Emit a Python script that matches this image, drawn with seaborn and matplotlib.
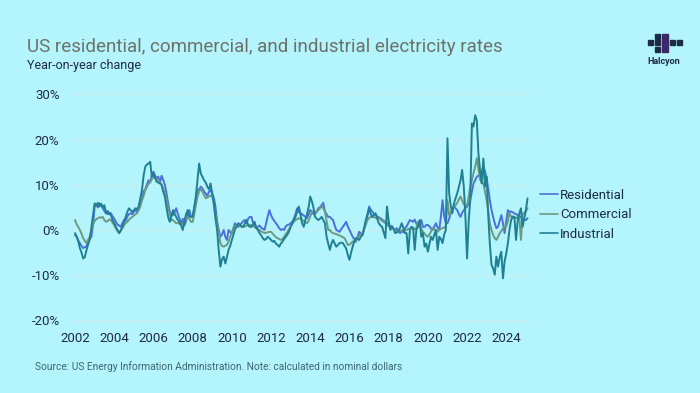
import numpy as np
import pandas as pd
import matplotlib
matplotlib.use("Agg")
import matplotlib.pyplot as plt
import seaborn as sns
from matplotlib.patches import Rectangle

# ---- data (year-on-year % change, monthly, Jan 2002 - Feb 2025) ----
residential = [
    -1.1, -1.5, -2.3, -2.9, -3.5, -4.0, -3.8, -3.7, -2.2, -2.0, -1.5, 1.0,   # 2002
    5.2, 5.5, 5.0, 5.9, 5.5, 4.8, 4.2, 3.7, 3.5, 3.8, 3.7, 3.0,              # 2003
    2.5, 1.8, 1.2, 1.0, 0.7, 1.5, 2.2, 2.0, 3.0, 3.5, 3.7, 3.5,              # 2004
    4.0, 4.4, 4.0, 5.0, 6.6, 7.0, 8.5, 9.0, 10.0, 11.0, 10.5, 12.0,          # 2005
    12.9, 12.0, 11.5, 11.8, 10.5, 12.0, 11.1, 10.0, 8.1, 6.0, 4.1, 3.5,      # 2006
    3.3, 4.0, 4.8, 3.5, 2.5, 1.5, 2.5, 1.0, 2.0, 3.5, 4.4, 3.0,              # 2007
    2.9, 5.0, 7.0, 8.85, 9.0, 9.6, 9.2, 8.5, 8.1, 7.5, 8.5, 8.85,            # 2008
    8.0, 7.0, 5.2, 2.0, 0.0, -1.5, -1.0, 0.0, -1.5, -2.2, 0.0, -0.5,         # 2009
    -0.7, 0.5, 1.5, 1.0, 0.7, 1.2, 1.5, 2.0, 2.2, 1.5, 2.5, 2.9,             # 2010
    2.9, 1.5, 1.1, 0.5, 0.7, 1.0, 0.5, 0.3, 0.0, 1.5, 3.0, 4.4,              # 2011
    3.3, 2.5, 2.0, 1.5, 1.0, 0.4, 0.0, 0.2, 0.0, 0.8, 1.1, 1.2,              # 2012
    1.5, 1.8, 2.5, 3.5, 4.8, 4.0, 3.7, 3.5, 3.2, 2.9, 2.6, 3.5,              # 2013
    4.4, 4.0, 3.5, 3.7, 4.0, 4.8, 5.0, 5.5, 6.0, 4.1, 3.5, 2.9,              # 2014
    2.9, 2.5, 2.2, 1.0, 0.0, -0.2, -0.4, 0.2, 0.7, 1.2, 1.8, 0.8,            # 2015
    0.0, -0.8, -1.5, -2.0, -2.6, -1.5, -0.4, -0.8, -1.1, 0.2, 1.5, 3.0,      # 2016
    5.2, 4.5, 4.1, 3.5, 3.3, 3.0, 2.8, 2.6, 2.3, 2.0, 1.8, 1.5,              # 2017
    1.2, 0.7, 0.9, 0.3, 0.0, 0.4, -0.2, -0.7, -0.3, -0.5, 0.4, 0.8,          # 2018
    1.5, 2.2, 2.0, 1.8, 2.3, 1.4, 1.1, 1.5, 2.2, 0.7, 0.7, 1.1,              # 2019
    1.1, 0.8, 0.3, 0.0, 0.8, 1.5, 0.5, 0.0, 3.0, 6.6, 3.0, 1.5,              # 2020
    1.5, 2.5, 3.7, 4.5, 5.2, 4.8, 4.4, 3.5, 2.9, 3.8, 4.4, 4.8,              # 2021
    5.2, 5.8, 6.6, 8.5, 10.3, 11.0, 11.8, 12.0, 12.2, 13.0, 14.0, 13.0,      # 2022
    11.4, 9.0, 6.6, 4.5, 2.9, 1.5, 0.4, 0.7, 2.0, 3.3, 1.5, -0.7,            # 2023
    2.0, 4.4, 4.0, 4.1, 3.9, 3.7, 3.5, 3.3, 3.0, 2.9, 2.5, 2.2,              # 2024
    2.2, 2.6,                                                                # 2025
]

commercial = [
    2.2, 1.2, 0.7, 0.0, -0.8, -1.8, -2.4, -2.9, -2.2, -1.5, -0.2, 1.1,       # 2002
    2.0, 2.4, 2.6, 2.8, 2.7, 2.9, 2.2, 1.8, 2.0, 2.3, 2.2, 1.6,              # 2003
    1.1, 0.3, -0.2, -0.7, 0.0, 0.4, 1.0, 1.5, 1.8, 2.3, 2.6, 2.9,            # 2004
    3.2, 3.5, 3.7, 4.4, 5.2, 6.5, 7.5, 8.85, 9.5, 10.2, 10.7, 11.2,          # 2005
    11.8, 11.5, 11.3, 11.1, 10.5, 10.0, 9.2, 8.0, 6.8, 5.2, 3.5, 2.2,        # 2006
    2.2, 1.8, 1.5, 1.6, 1.3, 1.1, 1.5, 2.0, 2.4, 2.9, 2.5, 1.8,              # 2007
    1.8, 3.5, 5.5, 7.4, 8.5, 9.2, 8.5, 7.8, 7.0, 7.2, 7.4, 7.6,              # 2008
    7.4, 5.5, 3.5, 1.5, -0.5, -2.9, -3.5, -3.7, -3.5, -3.3, -2.5, -1.5,      # 2009
    -0.5, 0.4, 0.8, 1.0, 1.1, 0.9, 0.7, 0.7, 0.8, 1.0, 1.1, 1.1,             # 2010
    1.1, 0.9, 0.6, 0.4, 0.2, 0.0, -0.3, -0.5, -0.7, -0.6, -0.5, -0.4,        # 2011
    -0.4, -0.8, -1.2, -1.6, -1.8, -2.0, -2.2, -2.0, -1.5, -0.9, -0.4, 0.2,   # 2012
    0.8, 1.4, 1.8, 2.2, 2.4, 2.6, 2.5, 2.2, 2.0, 1.8, 1.5, 2.0,              # 2013
    3.0, 4.1, 3.8, 4.0, 4.2, 4.4, 4.8, 5.2, 4.8, 4.1, 2.0, 0.0,              # 2014
    0.0, -0.5, -0.7, -0.8, -0.9, -1.1, -1.2, -1.4, -1.6, -1.8, -2.5, -3.3,   # 2015
    -3.3, -2.9, -2.6, -2.4, -2.2, -1.8, -1.3, -0.9, -0.7, 0.3, 1.2, 2.2,     # 2016
    2.6, 2.9, 2.9, 2.8, 2.7, 2.6, 2.6, 2.3, 2.0, 1.8, 1.5, 1.2,              # 2017
    0.8, 0.6, 0.4, 0.2, 0.0, -0.2, -0.4, -0.3, -0.1, 0.0, 0.1, 0.0,          # 2018
    0.2, 0.3, 0.4, 0.3, 0.1, 0.5, 1.8, 1.0, 0.3, -0.4, -0.8, -1.2,           # 2019
    -1.5, -1.0, -0.3, 0.4, 0.2, -0.1, -0.4, 0.0, 0.3, 0.4, 0.5, 0.8,         # 2020
    6.6, 3.3, 3.8, 4.5, 5.2, 5.5, 6.0, 6.8, 7.4, 6.5, 5.8, 5.2,              # 2021
    5.5, 7.5, 9.6, 11.0, 12.6, 14.0, 15.9, 13.5, 11.1, 10.5, 10.3, 8.5,      # 2022
    6.6, 4.0, 1.5, 0.0, -1.1, -1.8, -2.2, -1.5, -0.7, -0.2, 0.3, 0.7,        # 2023
    0.7, 2.0, 3.7, 3.0, 2.6, 2.8, 2.6, 2.9, 2.9, -2.2, 3.5, 3.8,             # 2024
    4.2, 4.8,                                                                # 2025
]

industrial = [
    -0.7, -1.5, -2.5, -4.0, -5.0, -6.3, -6.0, -4.5, -3.2, -2.2, 0.5, 3.0,    # 2002
    5.9, 5.5, 6.0, 5.2, 5.8, 5.0, 5.5, 3.7, 4.2, 3.5, 3.3, 2.2,              # 2003
    1.5, 0.7, 0.0, -0.7, -0.2, 0.7, 1.8, 2.9, 4.0, 4.8, 4.4, 4.0,            # 2004
    4.4, 4.8, 4.6, 5.2, 7.0, 8.85, 12.0, 14.0, 14.5, 14.7, 15.1, 11.8,       # 2005
    12.5, 11.5, 10.7, 10.5, 10.3, 10.0, 8.5, 7.4, 5.0, 2.9, 1.8, 3.0,        # 2006
    4.4, 3.5, 2.9, 2.2, 1.8, 1.0, 0.0, 2.0, 3.5, 4.4, 3.0, 2.9,              # 2007
    2.9, 5.0, 7.4, 11.0, 14.7, 12.5, 11.8, 11.0, 10.5, 9.6, 9.0, 10.3,       # 2008
    8.0, 5.9, 2.5, 0.0, -4.4, -8.1, -6.5, -5.9, -7.4, -6.0, -4.4, -3.5,      # 2009
    -2.2, -1.0, 0.2, 0.7, 1.5, 1.2, 0.8, 0.7, 1.5, 2.2, 1.0, 0.7,            # 2010
    0.7, 1.2, 1.8, 0.5, 0.0, -0.7, -1.2, -1.8, -2.2, -2.0, -1.5, -1.8,       # 2011
    -2.2, -2.6, -2.4, -3.0, -3.3, -3.7, -3.0, -2.6, -2.0, -1.5, -1.0, -0.3,  # 2012
    0.7, 1.5, 2.2, 2.9, 4.0, 5.2, 3.7, 1.5, 0.7, 2.2, 3.5, 5.0,              # 2013
    7.4, 6.3, 5.0, 2.9, 2.5, 2.2, 2.5, 2.9, 2.2, 1.5, -1.5, -3.0,            # 2014
    -4.4, -3.0, -2.2, -3.0, -3.7, -3.3, -2.9, -2.8, -2.9, -3.5, -4.1, -5.5,  # 2015
    -6.6, -5.0, -3.7, -2.5, -1.8, -2.0, -2.2, -1.5, -1.1, 0.5, 2.2, 3.5,     # 2016
    4.8, 3.5, 2.9, 3.3, 3.7, 2.5, 1.5, 1.0, 0.7, -0.5, -1.8, 5.2,            # 2017
    2.0, 0.0, 0.7, 0.3, -0.7, -0.5, -0.4, 0.5, 1.5, 0.5, -0.7, -0.7,         # 2018
    -5.2, 0.0, 0.7, 0.5, -4.4, 0.0, 0.7, 2.2, -1.5, -0.7, -3.7, -3.0,        # 2019
    -4.8, -3.0, -1.5, -2.2, -1.0, 0.0, -4.4, -1.5, -2.0, -2.9, -1.0, 0.0,    # 2020
    20.3, 8.1, 5.5, 3.7, 5.9, 7.0, 8.1, 9.5, 11.0, 13.3, 9.6, 3.0,           # 2021
    -6.3, 2.2, 6.6, 23.6, 22.9, 25.4, 24.3, 16.9, 13.0, 10.3, 15.8, 9.6,     # 2022
    11.8, 2.9, -3.0, -7.7, -8.5, -9.9, -5.9, -8.1, -6.0, -4.8, -10.7, -7.0,  # 2023
    -5.2, -2.9, 0.0, 2.2, 3.0, 2.9, -2.2, 2.0, 3.7, 4.8, 0.7, 2.5,           # 2024
    4.4, 7.0,                                                                # 2025
]

series_names = ["Residential", "Commercial", "Industrial"]
series_colors = ["#4b70dc", "#6c9a80", "#1f8094"]
y_ticks = [-20, -10, 0, 10, 20, 30]
x_tick_years = list(range(2002, 2025, 2))

dates = pd.date_range("2002-01-01", periods=len(residential), freq="MS")
df = pd.concat([
    pd.DataFrame({"date": dates, "value": vals, "series": name})
    for name, vals in zip(series_names, [residential, commercial, industrial])
], ignore_index=True)

# ---- style ----
BG = "#b4f4fc"
NAVY = "#1d2b45"
sns.set_theme(style="white")
plt.rcParams["font.family"] = ["Roboto", "DejaVu Sans"]

fig = plt.figure(figsize=(7.0, 3.93), dpi=100)
fig.patch.set_facecolor(BG)
ax = fig.add_axes([72 / 700, 1 - 329.4 / 393, 460 / 700, (329.4 - 89.9) / 393])
ax.set_facecolor(BG)

sns.lineplot(data=df, x="date", y="value", hue="series", hue_order=series_names,
             palette=series_colors, linewidth=1.4, ax=ax, legend=True)

ax.set_ylim(-22, 31)
ax.set_xlim(pd.Timestamp("2001-11-05"), pd.Timestamp("2025-04-25"))
ax.set_yticks(y_ticks)
ax.set_yticklabels([f"{t}%" for t in y_ticks])
ax.set_xticks([pd.Timestamp(f"{y}-01-01") for y in x_tick_years])
ax.set_xticklabels([str(y) for y in x_tick_years])
ax.tick_params(axis="both", length=0, labelsize=9.5, colors=NAVY)
ax.tick_params(axis="x", pad=2)
ax.tick_params(axis="y", pad=9)
ax.grid(axis="y", color="#cdeff3", linewidth=0.8)
ax.grid(axis="x", visible=False)
ax.set_axisbelow(True)
for s in ax.spines.values():
    s.set_visible(False)
ax.set_xlabel("")
ax.set_ylabel("")

leg = ax.legend(loc="center left", bbox_to_anchor=(1.005, 0.478), frameon=False,
                handlelength=1.4, handletextpad=0.15, labelspacing=0.48,
                fontsize=9.5, borderaxespad=0)
for txt in leg.get_texts():
    txt.set_color(NAVY)
for line in leg.get_lines():
    line.set_linewidth(1.2)

# ---- texts ----
fig.text(27 / 700, 1 - 47 / 393, "US residential, commercial, and industrial electricity rates",
         fontsize=13.5, color="#6c7268", va="center", ha="left")
fig.text(27 / 700, 1 - 66 / 393, "Year-on-year change", fontsize=9, color=NAVY,
         va="center", ha="left")
fig.text(35 / 700, 1 - 367 / 393,
         "Source: US Energy Information Administration. Note: calculated in nominal dollars",
         fontsize=7.3, color="#3e6670", va="center", ha="left")

# ---- logo ----
def sq(x, y, w, h, c):
    fig.patches.append(Rectangle((x / 700, 1 - (y + h) / 393), w / 700, h / 393,
                                 transform=fig.transFigure, color=c, zorder=5))

sq(648, 40, 5, 5, NAVY)
sq(655, 40, 5, 5, NAVY)
sq(655, 34, 5, 5, NAVY)
sq(655, 47, 5, 5, NAVY)
sq(662, 34, 6, 18, "#3b2a6b")
sq(670, 40, 5, 5, NAVY)
sq(677, 40, 5, 5, NAVY)
fig.text(664 / 700, 1 - 62 / 393, "Halcyon", fontsize=6.5, color=NAVY,
         fontweight="bold", ha="center", va="center")

fig.savefig("out.png", dpi=100, facecolor=BG)
